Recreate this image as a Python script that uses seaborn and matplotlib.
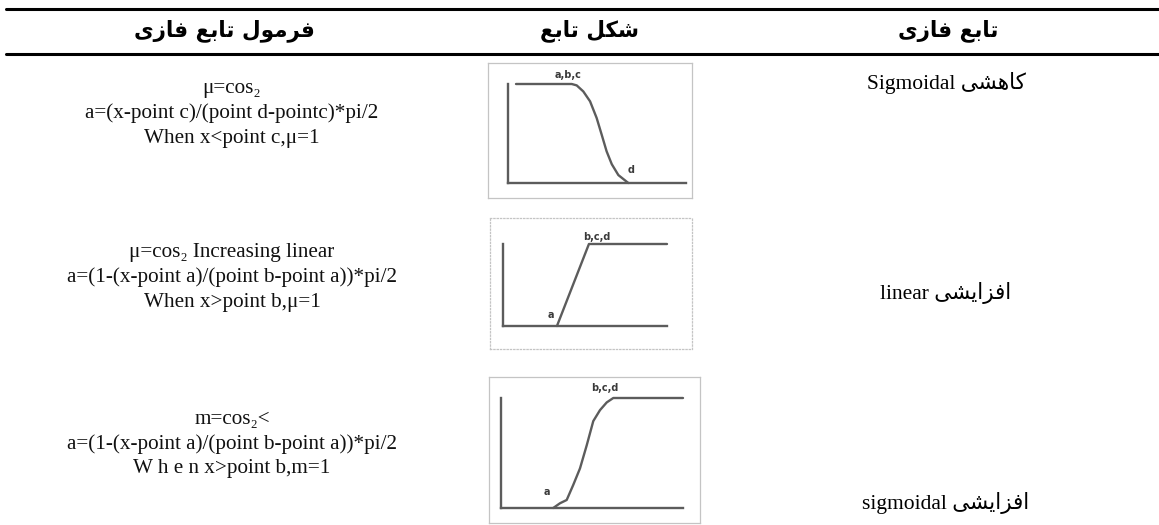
import numpy as np
import pandas as pd
import matplotlib
matplotlib.use("Agg")
import matplotlib.pyplot as plt
from matplotlib import font_manager as fm
from matplotlib.ft2font import FT2Font
from matplotlib.lines import Line2D
import seaborn as sns

# ---------------- data ----------------
headers = ["فرمول تابع فازی", "شکل تابع", "تابع فازی"]
row_names_fa = ["کاهشی", "افزایشی", "افزایشی"]
row_names_en = ["Sigmoidal", "linear", "sigmoidal"]

formula_row1 = ["μ=cos₂", "a=(x-point c)/(point d-pointc)*pi/2", "When x<point c,μ=1"]
formula_row2 = ["μ=cos₂ Increasing linear", "a=(1-(x-point a)/(point b-point a))*pi/2", "When x>point b,μ=1"]
formula_row3 = ["m=cos₂<", "a=(1-(x-point a)/(point b-point a))*pi/2", "W h e n x>point b,m=1"]

# decreasing sigmoidal curve
sig_dec_x = [0.45, 3.58, 3.86, 4.23, 4.61, 4.98, 5.26, 5.54, 5.83, 6.20, 6.76]
sig_dec_y = [1.0, 1.0, 0.986, 0.925, 0.825, 0.657, 0.49, 0.32, 0.19, 0.08, 0.0]
sig_dec_labels = ["a,b,c", "d"]
# increasing linear
lin_inc_x = [3.29, 5.24, 10.0]
lin_inc_y = [0.0, 1.0, 1.0]
lin_inc_labels = ["b,c,d", "a"]
# increasing sigmoidal
sig_inc_x = [2.87, 3.24, 3.61, 3.97, 4.34, 4.71, 5.07, 5.44, 5.81, 6.17, 10.0]
sig_inc_y = [0.0, 0.043, 0.073, 0.21, 0.36, 0.57, 0.79, 0.89, 0.96, 1.0, 1.0]
sig_inc_labels = ["b,c,d", "a"]

# ---------------- persian shaping ----------------
sns.set_theme(style="white")
plt.rcParams["font.family"] = ["DejaVu Sans"]

def _cmap(weight):
    path = fm.findfont(fm.FontProperties(family="DejaVu Sans", weight=weight))
    return set(FT2Font(path).get_charmap().keys())

_cm = _cmap("normal") & _cmap("bold")

def _pick(pref, fb):
    return pref if all(c in _cm for c in pref) else fb

FORMS = {
    "ا": (0xFE8D, 0xFE8E, None, None),
    "ب": (0xFE8F, 0xFE90, 0xFE91, 0xFE92),
    "ت": (0xFE95, 0xFE96, 0xFE97, 0xFE98),
    "ع": (0xFEC9, 0xFECA, 0xFECB, 0xFECC),
    "ف": (0xFED1, 0xFED2, 0xFED3, 0xFED4),
    "ز": (0xFEAF, 0xFEB0, None, None),
    "ر": (0xFEAD, 0xFEAE, None, None),
    "و": (0xFEED, 0xFEEE, None, None),
    "ش": (0xFEB5, 0xFEB6, 0xFEB7, 0xFEB8),
    "ل": (0xFEDD, 0xFEDE, 0xFEDF, 0xFEE0),
    "م": (0xFEE1, 0xFEE2, 0xFEE3, 0xFEE4),
    "ه": (0xFEE9, 0xFEEA, 0xFEEB, 0xFEEC),
}
_yeh = _pick((0xFBFC, 0xFBFD, 0xFBFE, 0xFBFF), (0xFEEF, 0xFEF0, 0xFEF3, 0xFEF4))
_keheh = _pick((0xFB8E, 0xFB8F, 0xFB90, 0xFB91), (0xFED9, 0xFEDA, 0xFEDB, 0xFEDC))
FORMS["ی"] = _yeh
FORMS["ک"] = _keheh

def fa(s):
    out = []
    n = len(s)
    for i, ch in enumerate(s):
        if ch not in FORMS:
            out.append(ch)
            continue
        prev = s[i - 1] if i > 0 else None
        nxt = s[i + 1] if i < n - 1 else None
        jp = prev in FORMS and FORMS[prev][2] is not None
        jn = FORMS[ch][2] is not None and nxt in FORMS
        iso, fin, ini, med = FORMS[ch]
        if jp and jn:
            c = med
        elif jp:
            c = fin
        elif jn:
            c = ini
        else:
            c = iso
        out.append(chr(c))
    return "".join(out[::-1])

# ---------------- figure ----------------
W, H = 1159, 525
fig = plt.figure(figsize=(W / 100, H / 100), dpi=100)
fig.patch.set_facecolor("white")

def fx(x):
    return x / W

def fy(y):
    return 1 - y / H

def rect(x0, y0, x1, y1):
    return [fx(x0), fy(y1), (x1 - x0) / W, (y1 - y0) / H]

# horizontal rules
for yy in (9, 54):
    fig.add_artist(Line2D([fx(6), fx(1159)], [fy(yy), fy(yy)], color="black", lw=2.2,
                          transform=fig.transFigure))

# headers
for txt, xc in zip(headers, [224, 590, 948]):
    fig.text(fx(xc), fy(31), fa(txt), ha="center", va="center", fontsize=15.5,
             fontweight="bold", family=["DejaVu Sans"], color="black")

# right column
serif = ["Liberation Serif", "DejaVu Sans"]
for fa_t, en_t, yc in zip(row_names_fa, row_names_en, [83, 293, 503]):
    xc = 946
    fig.text(fx(xc), fy(yc), en_t + " " + fa(fa_t), ha="center", va="center",
             fontsize=15.5, family=serif, color="black")

# formula column
for lines, y0 in zip([formula_row1, formula_row2, formula_row3], [89, 253, 420]):
    for k, ln in enumerate(lines):
        fig.text(fx(232), fy(y0 + 24.5 * k), ln, ha="center", va="center",
                 fontsize=15.2, family=["Liberation Serif", "DejaVu Serif"], color="#111111")

# mini charts
LC = "#5c5c5c"
charts = [
    dict(frame=(488, 63, 692, 198), ls="-", L=(508, 84, 686, 183),
         x=sig_dec_x, y=sig_dec_y, labels=sig_dec_labels,
         lpos=[(3.37, 1.09), (6.9, 0.13)]),
    dict(frame=(490, 218, 692, 349), ls=":", L=(503, 244, 667, 326),
         x=lin_inc_x, y=lin_inc_y, labels=lin_inc_labels,
         lpos=[(5.73, 1.085), (2.93, 0.13)]),
    dict(frame=(489, 377, 700, 523), ls="-", L=(501, 398, 683, 508),
         x=sig_inc_x, y=sig_inc_y, labels=sig_inc_labels,
         lpos=[(5.71, 1.09), (2.53, 0.145)]),
]

for ch in charts:
    fax = fig.add_axes(rect(*ch["frame"]))
    fax.set_xticks([]); fax.set_yticks([])
    fax.set_facecolor("white")
    for sp in fax.spines.values():
        sp.set_color("#c4c4c4"); sp.set_linewidth(0.9); sp.set_linestyle(ch["ls"])
    ax = fig.add_axes(rect(*ch["L"]))
    ax.patch.set_alpha(0)
    df = pd.DataFrame({"x": ch["x"], "y": ch["y"]})
    sns.lineplot(data=df, x="x", y="y", ax=ax, color=LC, linewidth=1.7,
                 estimator=None, sort=False, clip_on=False)
    ax.set_xlim(0, 10); ax.set_ylim(0, 1)
    ax.set_xticks([]); ax.set_yticks([])
    ax.set_xlabel(""); ax.set_ylabel("")
    for s in ("top", "right"):
        ax.spines[s].set_visible(False)
    for s in ("left", "bottom"):
        ax.spines[s].set_color(LC); ax.spines[s].set_linewidth(1.7)
    for lab, (lx, ly) in zip(ch["labels"], ch["lpos"]):
        ax.text(lx, ly, lab, ha="center", va="center", fontsize=7, fontweight="bold",
                color="#3a3a3a", clip_on=False)

fig.savefig("out.png", dpi=100, facecolor="white")
